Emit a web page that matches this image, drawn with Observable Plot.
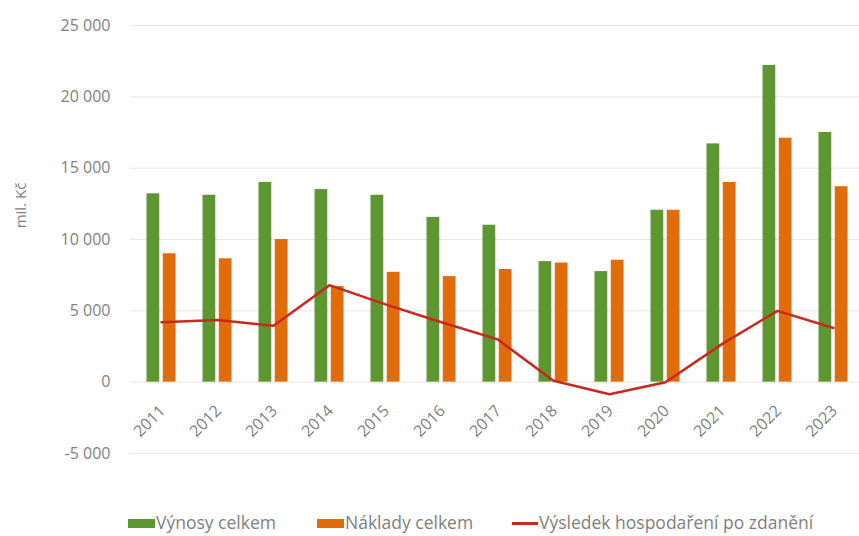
<!DOCTYPE html>
<html>
<head>
<meta charset="utf-8">
<script src="https://cdn.jsdelivr.net/npm/d3@7"></script>
<script src="https://cdn.jsdelivr.net/npm/@observablehq/plot@0.6"></script>
<style>
  html, body { margin: 0; padding: 0; background: #ffffff; }
  body { width: 859px; height: 536px; overflow: hidden; position: relative; font-family: "Open Sans", sans-serif; }
  #chart svg { display: block; }
  .legend { position: absolute; top: 510px; left: 0; width: 859px; height: 25px; font-size: 17.5px; line-height: 25px; color: #7f7f7f; }
  .item { position: absolute; top: 0; height: 25px; display: flex; align-items: center; white-space: nowrap; }
  .sw { width: 27px; height: 9px; margin-right: 1px; margin-top: 2px; }
  .ln { width: 26px; height: 3px; margin-right: 1px; margin-top: 2px; }
</style>
</head>
<body>
<div id="chart"></div>
<div class="legend" id="legend"></div>
<script>
const years = ["2011","2012","2013","2014","2015","2016","2017","2018","2019","2020","2021","2022","2023"];
const vynosy = [13200, 13100, 14000, 13500, 13100, 11550, 11000, 8450, 7750, 12050, 16700, 22200, 17500];
const naklady = [9000, 8650, 10000, 6700, 7700, 7400, 7900, 8350, 8550, 12050, 14000, 17100, 13700];
const vysledek = [4200, 4350, 3950, 6800, 5450, 4200, 3000, 100, -850, 0, 2650, 5000, 3800];
const yTicks = [-5000, 0, 5000, 10000, 15000, 20000, 25000];
const seriesNames = ["Výnosy celkem", "Náklady celkem", "Výsledek hospodaření po zdanění"];
const colors = ["#5e9631", "#e36c0a", "#c8281e"];
const yLabel = "mil. Kč";

const data = years.map((y, i) => ({year: y, vynosy: vynosy[i], naklady: naklady[i], vysledek: vysledek[i]}));
const loc = d3.formatLocale({thousands: " ", grouping: [3], decimal: ",", currency: ["", ""], minus: "-"});
const fmt = loc.format(",");
const textColor = "#7f7f7f";

const chart = Plot.plot({
  width: 859,
  height: 505,
  marginLeft: 130,
  marginRight: -5,
  marginTop: 25,
  marginBottom: 52,
  style: {fontFamily: "Open Sans, sans-serif", fontSize: "16px", color: textColor, background: "#ffffff"},
  x: {type: "band", domain: years, padding: 0, axis: null},
  y: {domain: [-5000, 25000], axis: null},
  marks: [
    Plot.ruleY(yTicks, {stroke: "#e6e6e6", strokeWidth: 1}),
    Plot.axisY({ticks: yTicks, tickSize: 0, tickPadding: 20, tickFormat: fmt, fontSize: 16, fill: textColor, label: null}),
    Plot.barY(data, {x: "year", y: "vynosy", fill: colors[0], insetLeft: 13.5, insetRight: 29.75}),
    Plot.barY(data, {x: "year", y: "naklady", fill: colors[1], insetLeft: 29.75, insetRight: 13.5}),
    Plot.line(data, {x: "year", y: "vysledek", stroke: colors[2], strokeWidth: 2.5, curve: "linear"}),
    Plot.text(years, {x: d => d, y: 0, text: d => d, rotate: -45, textAnchor: "end", dx: 1, dy: 26, fontSize: 16, fill: textColor}),
    Plot.text([yLabel], {frameAnchor: "left", text: d => d, rotate: -90, textAnchor: "middle", dx: -109, dy: -34, fontSize: 15, fill: textColor})
  ]
});
document.getElementById("chart").appendChild(chart);

const legend = document.getElementById("legend");
const lefts = [128, 317, 512];
seriesNames.forEach((name, i) => {
  const it = document.createElement("div");
  it.className = "item";
  it.style.left = lefts[i] + "px";
  const sw = document.createElement("span");
  sw.className = i === 2 ? "ln" : "sw";
  sw.style.background = colors[i];
  const tx = document.createElement("span");
  tx.textContent = name;
  it.appendChild(sw);
  it.appendChild(tx);
  legend.appendChild(it);
});
</script>
</body>
</html>
